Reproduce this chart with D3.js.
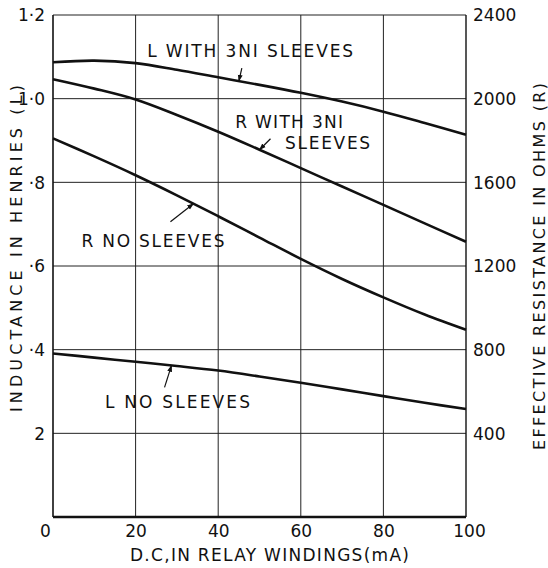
<!DOCTYPE html>
<html>
<head>
<meta charset="utf-8">
<script src="https://cdn.jsdelivr.net/npm/d3@7/dist/d3.min.js"></script>
<style>
  html, body { margin: 0; padding: 0; background: #fff; }
  svg { display: block; }
  text { font-family: "DejaVu Sans", sans-serif; fill: #111; }
</style>
</head>
<body>
<svg id="chart" width="548" height="568"></svg>
<script>
// ---- data ----
const currentMA = [0, 10, 20, 30, 40, 50, 60, 70, 80, 90, 100];
const lWith3NI  = [1.087, 1.091, 1.085, 1.069, 1.051, 1.033, 1.014, 0.993, 0.969, 0.942, 0.914]; // henries
const rWith3NI  = [2093, 2048, 1996, 1922, 1842, 1756, 1668, 1580, 1492, 1404, 1316];          // ohms
const rNoSleeve = [1810, 1724, 1634, 1538, 1438, 1336, 1234, 1138, 1050, 968, 895];            // ohms
const lNoSleeve = [0.391, 0.381, 0.371, 0.361, 0.350, 0.336, 0.321, 0.305, 0.289, 0.273, 0.258]; // henries

const xTicks = [0, 20, 40, 60, 80, 100];
const xTickLabels = ["0", "20", "40", "60", "80", "100"];
const lTicks = [0.2, 0.4, 0.6, 0.8, 1.0, 1.2];
const lTickLabels = ["2", "·4", "·6", "·8", "1·0", "1·2"];
const rTicks = [400, 800, 1200, 1600, 2000, 2400];
const rTickLabels = ["400", "800", "1200", "1600", "2000", "2400"];

const xTitle = "D.C,IN  RELAY WINDINGS(mA)";
const lTitle = "INDUCTANCE IN HENRIES (L)";
const rTitle = "EFFECTIVE RESISTANCE IN OHMS (R)";

const series = [
  { name: "L WITH 3NI SLEEVES", axis: "L", values: lWith3NI },
  { name: "R WITH 3NI SLEEVES", axis: "R", values: rWith3NI },
  { name: "R NO SLEEVES", axis: "R", values: rNoSleeve },
  { name: "L NO SLEEVES", axis: "L", values: lNoSleeve }
];

const labelText = ["L WITH 3NI SLEEVES", "R WITH 3NI", "SLEEVES", "R NO SLEEVES", "L NO SLEEVES"];
const labelX    = [22.8, 44.1, 56.2, 6.9, 12.6];
const labelY    = [1.100, 0.929, 0.879, 0.645, 0.260];
const labelLen  = [206, 108, 85, 143, 145];

const leaderSeries = [0, 1, 2, 3];
const leaderX      = [45, 50, 34, 28.7];
const leaderDX     = [3, 11, -23, -7];
const leaderDY     = [-13, -11, 18, 22];

// ---- layout ----
const svg = d3.select("#chart");
const mLeft = 53, mRight = 466, mTop = 15, mBottom = 517;

const x  = d3.scaleLinear().domain([0, 100]).range([mLeft, mRight]);
const yL = d3.scaleLinear().domain([0, 1.2]).range([mBottom, mTop]);
const yR = d3.scaleLinear().domain([0, 2400]).range([mBottom, mTop]);

// grid
const g = svg.append("g");
g.selectAll("line.vg").data(xTicks.filter(d => d > 0 && d < 100)).join("line")
  .attr("x1", d => x(d)).attr("x2", d => x(d)).attr("y1", mTop).attr("y2", mBottom)
  .attr("stroke", "#222").attr("stroke-width", 1);
g.selectAll("line.hg").data(lTicks).join("line")
  .attr("x1", mLeft).attr("x2", mRight).attr("y1", d => yL(d)).attr("y2", d => yL(d))
  .attr("stroke", "#222").attr("stroke-width", d => d === 1.2 ? 1.2 : 1);

// frame
svg.append("line").attr("x1", mLeft).attr("x2", mLeft).attr("y1", mTop).attr("y2", mBottom)
  .attr("stroke", "#111").attr("stroke-width", 1.6);
svg.append("line").attr("x1", mRight).attr("x2", mRight).attr("y1", mTop).attr("y2", mBottom)
  .attr("stroke", "#111").attr("stroke-width", 1.4);
svg.append("line").attr("x1", mLeft).attr("x2", mRight).attr("y1", mBottom).attr("y2", mBottom)
  .attr("stroke", "#111").attr("stroke-width", 2.4);

// axes
const xAxis = d3.axisBottom(x).tickValues(xTicks).tickSize(0)
  .tickFormat((d, i) => xTickLabels[i]);
const xa = svg.append("g").attr("transform", `translate(0,${mBottom})`).call(xAxis);
xa.select(".domain").remove();
xa.selectAll("text").attr("dy", 0).attr("y", 20).style("font-size", "17px")
  .attr("dx", (d) => d === 0 ? -8 : (d === 100 ? 3 : 0));

const lAxis = d3.axisLeft(yL).tickValues(lTicks).tickSize(0)
  .tickFormat((d, i) => lTickLabels[i]);
const la = svg.append("g").attr("transform", `translate(${mLeft},0)`).call(lAxis);
la.select(".domain").remove();
la.selectAll("text").attr("x", -8).style("font-size", "17px").attr("dy", "0.35em");

const rAxis = d3.axisRight(yR).tickValues(rTicks).tickSize(0)
  .tickFormat((d, i) => rTickLabels[i]);
const ra = svg.append("g").attr("transform", `translate(${mRight},0)`).call(rAxis);
ra.select(".domain").remove();
ra.selectAll("text").attr("x", 7).style("font-size", "17px").attr("dy", "0.35em");

// axis titles
svg.append("text").attr("x", (mLeft + mRight) / 2 + 10).attr("y", 561)
  .attr("text-anchor", "middle").style("font-size", "17px")
  .attr("textLength", 279).attr("lengthAdjust", "spacing").text(xTitle);
svg.append("text").attr("transform", `translate(22,${(85 + 412) / 2}) rotate(-90)`)
  .attr("text-anchor", "middle").style("font-size", "16px")
  .attr("textLength", 327).attr("lengthAdjust", "spacing").text(lTitle);
svg.append("text").attr("transform", `translate(545,${(83 + 450) / 2}) rotate(-90)`)
  .attr("text-anchor", "middle").style("font-size", "16px")
  .attr("textLength", 367).attr("lengthAdjust", "spacing").text(rTitle);

// curves
function yFor(s) { return s.axis === "L" ? yL : yR; }
series.forEach(s => {
  const ys = yFor(s);
  const line = d3.line().x((d, i) => x(currentMA[i])).y(d => ys(d)).curve(d3.curveCatmullRom.alpha(0.5));
  svg.append("path").datum(s.values).attr("d", line)
    .attr("fill", "none").attr("stroke", "#111").attr("stroke-width", 2.6)
    .attr("stroke-linejoin", "round");
});

// labels
svg.selectAll("text.lbl").data(labelText).join("text")
  .attr("class", "lbl")
  .attr("x", (d, i) => x(labelX[i])).attr("y", (d, i) => yL(labelY[i]))
  .style("font-size", "17px")
  .attr("textLength", (d, i) => labelLen[i]).attr("lengthAdjust", "spacing")
  .text(d => d);

// leader arrows
const defs = svg.append("defs");
defs.append("marker").attr("id", "ah").attr("viewBox", "0 0 10 10")
  .attr("refX", 9).attr("refY", 5).attr("markerWidth", 7).attr("markerHeight", 7)
  .attr("orient", "auto").attr("markerUnits", "userSpaceOnUse")
  .append("path").attr("d", "M0,1.5 L10,5 L0,8.5 Z").attr("fill", "#111");

const interp = (arr, xv) => {
  const i = d3.bisectRight(currentMA, xv) - 1;
  const j = Math.min(i + 1, currentMA.length - 1);
  const t = j === i ? 0 : (xv - currentMA[i]) / (currentMA[j] - currentMA[i]);
  return arr[i] + (arr[j] - arr[i]) * t;
};
leaderSeries.forEach((si, k) => {
  const s = series[si];
  const hx = x(leaderX[k]);
  const hy = yFor(s)(interp(s.values, leaderX[k]));
  svg.append("line")
    .attr("x1", hx + leaderDX[k]).attr("y1", hy + leaderDY[k])
    .attr("x2", hx).attr("y2", hy)
    .attr("stroke", "#111").attr("stroke-width", 1.2)
    .attr("marker-end", "url(#ah)");
});
</script>
</body>
</html>
